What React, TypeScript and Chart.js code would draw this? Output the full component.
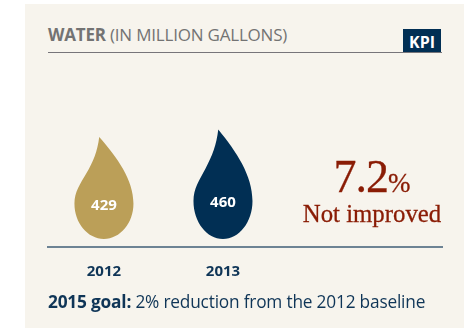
import React, { useEffect, useRef } from "react";
import { Chart, registerables } from "chart.js";

Chart.register(...registerables);

const years = [2012, 2013];
const gallons = [429, 460];
const dropColors = ["#bb9f58", "#012f54"];
const headingBold = "WATER";
const headingRest = " (IN MILLION GALLONS)";
const badge = "KPI";
const changeValue = "7.2";
const changeUnit = "%";
const changeNote = "Not improved";
const goalBold = "2015 goal:";
const goalRest = " 2% reduction from the 2012 baseline";

const sans = "'Open Sans', sans-serif";
const serif = "'Liberation Serif', serif";

// Outlines each bar as a water drop and writes its value inside.
const dropPlugin = {
  id: "drops",
  afterDatasetsDraw(chart: any) {
    const { ctx } = chart;
    const meta = chart.getDatasetMeta(0);
    meta.data.forEach((bar: any, i: number) => {
      const hw = bar.width / 2;
      const top = bar.y;
      const h = bar.base - bar.y;
      const px = (u: number) => bar.x + u * hw;
      const py = (v: number) => top + v * h;
      ctx.save();
      ctx.fillStyle = dropColors[i];
      ctx.beginPath();
      ctx.moveTo(px(-0.16), py(0));
      ctx.bezierCurveTo(px(-0.22), py(0.14), px(-0.36), py(0.24), px(-0.6), py(0.36));
      ctx.bezierCurveTo(px(-0.8), py(0.46), px(-1), py(0.54), px(-1), py(0.653));
      ctx.bezierCurveTo(px(-1), py(0.845), px(-0.55), py(1), px(0), py(1));
      ctx.bezierCurveTo(px(0.55), py(1), px(1), py(0.845), px(1), py(0.653));
      ctx.bezierCurveTo(px(1), py(0.42), px(0.45), py(0.2), px(-0.16), py(0));
      ctx.closePath();
      ctx.fill();
      ctx.fillStyle = "#ffffff";
      ctx.font = `700 15px ${sans}`;
      ctx.textAlign = "center";
      ctx.textBaseline = "middle";
      ctx.fillText(String(gallons[i]), bar.x, top + h * 0.67);
      ctx.restore();
    });
  },
};

export default function App() {
  const canvasRef = useRef<HTMLCanvasElement>(null);

  useEffect(() => {
    const chart = new Chart(canvasRef.current!, {
      type: "bar",
      data: {
        datasets: [
          {
            data: years.map((year, i) => ({ x: year, y: gallons[i] })),
            backgroundColor: "transparent",
            barThickness: 59,
          },
        ],
      },
      plugins: [dropPlugin],
      options: {
        animation: false,
        responsive: false,
        layout: { padding: { left: 48, right: 25, top: 120, bottom: 39 } },
        plugins: { legend: { display: false }, tooltip: { enabled: false } },
        scales: {
          x: {
            type: "linear",
            offset: false,
            min: 2011.53,
            max: 2014.84,
            afterBuildTicks: (axis: any) => {
              axis.ticks = years.map((value) => ({ value }));
            },
            grid: { display: false },
            border: { display: true, color: "#6d8394", width: 2 },
            ticks: {
              autoSkip: false,
              maxRotation: 0,
              padding: 8,
              color: "#0f3557",
              font: { family: sans, weight: "bold", size: 15 },
              callback: (value: any) => String(value),
            },
          },
          y: {
            min: -34,
            max: 500,
            display: false,
          },
        },
      },
    } as any);
    return () => chart.destroy();
  }, []);

  return (
    <div style={{ position: "absolute", left: 0, top: 0, width: 467, height: 328, overflow: "hidden", background: "#ffffff" }}>
      <div style={{ position: "absolute", left: 25, top: 4, width: 439, height: 324, background: "#f7f4ed" }} />
      <div style={{ position: "absolute", left: 48, top: 24, width: 394, height: 28, borderBottom: "1px solid #77757a", fontFamily: sans, fontSize: 17, lineHeight: "22px", color: "#737373", letterSpacing: -0.2, whiteSpace: "pre" }}>
        <b>{headingBold}</b>{headingRest}
      </div>
      <div style={{ position: "absolute", left: 403, top: 29, width: 38, height: 23, background: "#012f54", color: "#ffffff", fontFamily: sans, fontWeight: 700, fontSize: 16, lineHeight: "26px", textAlign: "center" }}>
        {badge}
      </div>
      <canvas ref={canvasRef} width={467} height={328} style={{ position: "absolute", left: 0, top: 0, display: "block" }} />
      <div style={{ position: "absolute", left: 302, width: 140, top: 152, textAlign: "center", fontFamily: serif, color: "#8a1c05", whiteSpace: "pre", WebkitTextStroke: "0.3px #8a1c05" }}>
        <div style={{ fontSize: 46, lineHeight: "50px", letterSpacing: -1 }}>
          {changeValue}<span style={{ fontSize: 27, letterSpacing: 0 }}>{changeUnit}</span>
        </div>
        <div style={{ fontSize: 24.8, lineHeight: "24px", marginTop: -6 }}>{changeNote}</div>
      </div>
      <div style={{ position: "absolute", left: 48, top: 291, fontFamily: sans, fontSize: 17.3, lineHeight: "22px", color: "#0f3557", letterSpacing: -0.2, whiteSpace: "pre" }}>
        <b>{goalBold}</b>{goalRest}
      </div>
    </div>
  );
}
